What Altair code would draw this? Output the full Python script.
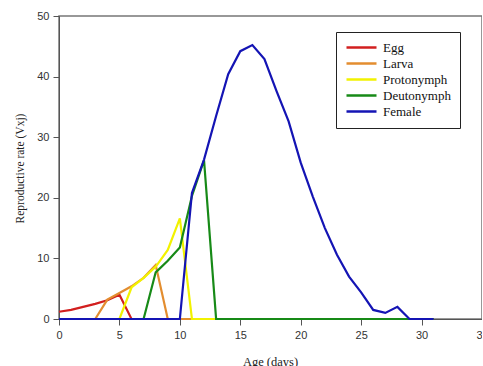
import altair as alt
import pandas as pd

days = list(range(32))
stages = ["Egg", "Larva", "Protonymph", "Deutonymph", "Female"]
colors = ["#d21f1f", "#e38d2f", "#f2f200", "#178a17", "#1414b4"]

egg = [1.2, 1.5, 2.0, 2.5, 3.1, 4.0] + [0] * 26
larva = [0, 0, 0, 0, 3.2, 4.3, 5.4, 6.8, 8.9] + [0] * 23
proto = [0] * 6 + [5.2, 6.8, 8.6, 11.4, 16.6] + [0] * 21
deuto = [0] * 8 + [7.7, 9.6, 11.8, 20.3, 26.2] + [0] * 19
female = [0] * 11 + [20.8, 26.3, 33.5, 40.4, 44.2, 45.2, 42.9, 37.6, 32.6,
                     25.8, 20.2, 15.0, 10.6, 7.0, 4.4, 1.5, 1.0, 2.0] + [0] * 3

x_ticks = [0, 5, 10, 15, 20, 25, 30, 35]
y_ticks = [0, 10, 20, 30, 40, 50]

rows = []
for name, vals in zip(stages, [egg, larva, proto, deuto, female]):
    for d, v in zip(days, vals):
        rows.append({"day": d, "rate": v, "stage": name})
df = pd.DataFrame(rows)

x = alt.X("day:Q", scale=alt.Scale(domain=[0, 35], nice=False),
          axis=alt.Axis(values=x_ticks, title="Age (days)", titleX=211, titleY=46,
                        titleBaseline="alphabetic", titleFontSize=12.5, labelPadding=4,
                        labelFlush=False))
y = alt.Y("rate:Q", scale=alt.Scale(domain=[0, 50], nice=False),
          axis=alt.Axis(values=y_ticks, title="Reproductive rate (Vxj)", titleX=-39,
                        titleY=152, titleBaseline="middle", titleFontSize=11.5,
                        labelPadding=4, labelFlush=False))
color = alt.Color("stage:N", scale=alt.Scale(domain=stages, range=colors),
                  legend=alt.Legend(title=None, orient="none", legendX=277, legendY=16,
                                    strokeColor="#222", padding=9, symbolType="stroke",
                                    symbolSize=900, symbolStrokeWidth=2.5,
                                    clipHeight=13,
                                    labelFont="Liberation Serif", labelFontSize=13,
                                    labelColor="#111", labelOffset=5, rowPadding=2))

layers = [
    alt.Chart(df).transform_filter(alt.datum.stage == s)
    .mark_line(strokeWidth=2.2)
    .encode(x=x, y=y, color=color)
    for s in stages
]

chart = alt.layer(*layers).properties(
    width=423, height=303,
    autosize=alt.AutoSizeParams(type="none"),
    padding={"left": 59, "top": 16, "right": 0, "bottom": 47},
).configure_axis(
    labelFont="Liberation Sans", labelFontSize=11, labelColor="#333",
    tickColor="#555", domainColor="#555", tickSize=6, grid=False,
    titleFont="Liberation Serif", titleFontWeight="normal", titleColor="#222",
).configure_view(stroke="#777", strokeWidth=1.5)

chart.save("out.html", embed_options={"renderer": "svg", "actions": False})
